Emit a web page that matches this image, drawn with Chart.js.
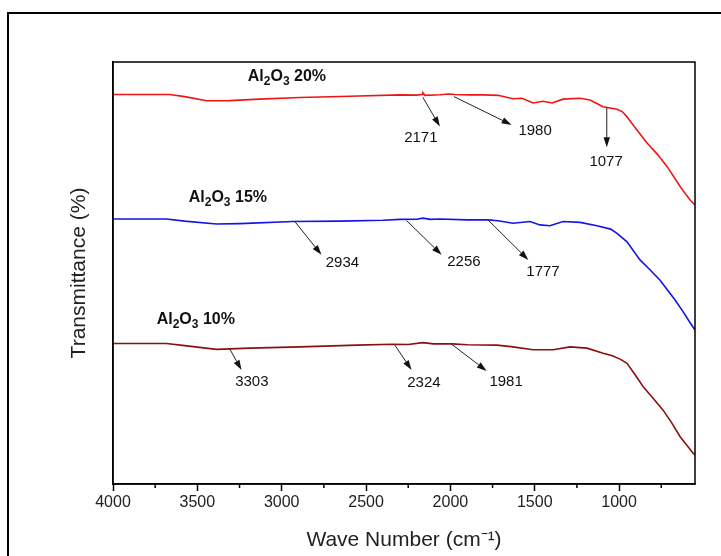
<!DOCTYPE html>
<html>
<head>
<meta charset="utf-8">
<script src="https://cdn.jsdelivr.net/npm/chart.js@4"></script>
<style>
  html, body { margin: 0; padding: 0; background: #fff; }
  #wrap { width: 721px; height: 556px; position: relative; }
</style>
</head>
<body>
<div id="wrap"><canvas id="c" width="721" height="556"></canvas></div>
<script>
// ---- data (wavenumber in cm-1, transmittance in arbitrary offset %) ----
const wn20 = [4000, 3664, 3575, 3446, 3308, 3130, 2893, 2596, 2299, 2200, 2168, 2163, 2151, 2062, 2010, 1973, 1884, 1800, 1718, 1629, 1575, 1510, 1451, 1397, 1332, 1231, 1172, 1095, 1012, 980, 953, 900, 834, 770, 715, 638, 600, 579, 550];
const t20  = [92.3, 92.3, 91.8, 90.8, 90.85, 91.2, 91.6, 91.9, 92.2, 92.15, 92.3, 92.7, 92.1, 92.25, 92.4, 92.3, 92.2, 92.2, 92.1, 91.3, 91.4, 90.3, 90.7, 90.3, 91.2, 91.4, 91.0, 89.4, 88.8, 88.2, 87.0, 84.2, 80.8, 78.0, 75.2, 70.5, 68.4, 67.3, 66.1];

const wn15 = [4000, 3683, 3575, 3387, 3248, 2934, 2655, 2400, 2299, 2200, 2163, 2120, 2062, 1900, 1777, 1718, 1629, 1528, 1469, 1410, 1332, 1231, 1131, 1050, 1012, 953, 876, 820, 757, 668, 620, 579, 550];
const t15  = [62.8, 62.8, 62.3, 61.6, 61.7, 62.2, 62.3, 62.5, 62.7, 62.75, 63.0, 62.7, 62.8, 62.6, 62.6, 62.4, 61.8, 62.2, 61.4, 61.2, 62.2, 62.0, 61.2, 60.4, 59.4, 57.4, 53.1, 50.9, 48.3, 43.6, 40.8, 38.2, 36.5];

const wn10 = [4000, 3683, 3575, 3387, 3189, 2892, 2554, 2341, 2250, 2163, 2100, 1991, 1900, 1724, 1629, 1510, 1391, 1290, 1190, 1095, 1040, 994, 953, 900, 858, 800, 739, 690, 638, 561, 550];
const t10  = [33.3, 33.3, 32.8, 31.9, 32.2, 32.5, 32.9, 33.1, 33.05, 33.5, 33.2, 33.2, 33.0, 32.9, 32.5, 31.8, 31.8, 32.5, 32.2, 31.0, 30.4, 29.6, 28.6, 25.6, 23.1, 20.4, 17.5, 14.6, 11.2, 7.3, 6.9];

const xTicks = [4000, 3500, 3000, 2500, 2000, 1500, 1000];
const xMinorTicks = [3750, 3250, 2750, 2250, 1750, 1250, 750];

// series labels (Al2O3 x%) anchored in data coordinates
const seriesPct  = ['20%', '15%', '10%'];
const seriesLblX = [3201, 3551, 3741];
const seriesLblY = [96.8, 68.1, 39.1];

// peak annotations: label, arrow tail, arrow head, label anchor (data coords)
const annLabels = ['2171', '1980', '1077', '2934', '2256', '1777', '3303', '2324', '1981'];
const annTailX  = [2163, 1979, 1073, 2922, 2259, 1775, 3308, 2329, 1992];
const annTailY  = [91.6, 91.8, 89.2, 62.2, 62.4, 62.5, 32.0, 32.9, 33.1];
const annHeadX  = [2062, 1637, 1073, 2764, 2052, 1538, 3238, 2230, 1785];
const annHeadY  = [84.7, 85.1, 79.8, 54.3, 54.3, 53.1, 27.0, 27.0, 26.8];
const annTextX  = [2175, 1498, 1077, 2640, 1920, 1451, 3177, 2157, 1670];
const annTextY  = [82.0, 83.7, 76.4, 52.4, 52.7, 50.3, 24.1, 23.9, 24.2];

const FONT = "'Liberation Sans', Arial, Helvetica, sans-serif";
const toPts = (xs, ys) => xs.map((x, i) => ({ x: x, y: ys[i] }));

const decor = {
  id: 'decor',
  afterDraw(chart) {
    const ctx = chart.ctx;
    const xs = chart.scales.x, ys = chart.scales.y;
    const a = chart.chartArea;
    ctx.save();
    // outer figure border
    ctx.strokeStyle = '#000';
    ctx.lineWidth = 2;
    ctx.strokeRect(8, 13, 760, 600);
    // plot frame
    ctx.lineWidth = 1.5;
    ctx.strokeRect(a.left, a.top, a.right - a.left, a.bottom - a.top);
    // minor ticks
    xMinorTicks.forEach(v => {
      const px = xs.getPixelForValue(v);
      ctx.beginPath();
      ctx.moveTo(px, a.bottom);
      ctx.lineTo(px, a.bottom + 4);
      ctx.stroke();
    });
    // annotations
    ctx.fillStyle = '#111';
    ctx.strokeStyle = '#222';
    ctx.lineWidth = 1;
    annLabels.forEach((lbl, i) => {
      const x1 = xs.getPixelForValue(annTailX[i]), y1 = ys.getPixelForValue(annTailY[i]);
      const x2 = xs.getPixelForValue(annHeadX[i]), y2 = ys.getPixelForValue(annHeadY[i]);
      const ang = Math.atan2(y2 - y1, x2 - x1);
      const L = 10, W = 3.2;
      const bx = x2 - L * Math.cos(ang), by = y2 - L * Math.sin(ang);
      ctx.beginPath();
      ctx.moveTo(x1, y1);
      ctx.lineTo(bx, by);
      ctx.stroke();
      ctx.beginPath();
      ctx.moveTo(x2, y2);
      ctx.lineTo(bx + W * Math.sin(ang), by - W * Math.cos(ang));
      ctx.lineTo(bx - W * Math.sin(ang), by + W * Math.cos(ang));
      ctx.closePath();
      ctx.fill();
      ctx.font = '15px ' + FONT;
      ctx.textAlign = 'center';
      ctx.textBaseline = 'middle';
      ctx.fillText(lbl, xs.getPixelForValue(annTextX[i]), ys.getPixelForValue(annTextY[i]));
    });
    // series labels with subscripts
    ctx.fillStyle = '#111';
    ctx.textAlign = 'left';
    ctx.textBaseline = 'alphabetic';
    seriesPct.forEach((p, i) => {
      let x = xs.getPixelForValue(seriesLblX[i]);
      const yc = ys.getPixelForValue(seriesLblY[i]);
      const base = yc + 5;
      const parts = [['Al', 0, 16], ['2', 4, 12], ['O', 0, 16], ['3', 4, 12], [' ' + p, 0, 16]];
      parts.forEach(([t, dy, fs]) => {
        ctx.font = 'bold ' + fs + 'px ' + FONT;
        ctx.fillText(t, x, base + dy);
        x += ctx.measureText(t).width;
      });
    });
    ctx.restore();
  }
};

new Chart(document.getElementById('c'), {
  type: 'line',
  data: {
    datasets: [
      { label: 'Al2O3 20%', data: toPts(wn20, t20), borderColor: '#f01515', borderWidth: 1.6 },
      { label: 'Al2O3 15%', data: toPts(wn15, t15), borderColor: '#1414e6', borderWidth: 1.6 },
      { label: 'Al2O3 10%', data: toPts(wn10, t10), borderColor: '#8a1010', borderWidth: 1.6 }
    ]
  },
  options: {
    responsive: false,
    animation: false,
    devicePixelRatio: 1,
    layout: { padding: { left: 67, top: 62, right: 26, bottom: 0 } },
    elements: { point: { radius: 0 }, line: { tension: 0 } },
    plugins: { legend: { display: false }, tooltip: { enabled: false } },
    scales: {
      x: {
        type: 'linear',
        reverse: true,
        min: 550,
        max: 4000,
        afterFit: s => { s.height = 72; },
        afterBuildTicks: s => { s.ticks = xTicks.map(v => ({ value: v })); },
        ticks: {
          includeBounds: false,
          stepSize: 500,
          padding: 2,
          color: '#222',
          font: { family: FONT, size: 16 },
          maxRotation: 0,
          callback: v => String(v)
        },
        grid: { display: true, drawOnChartArea: false, drawTicks: true, tickLength: 7, tickColor: '#000', tickWidth: 1.5 },
        border: { display: true, color: '#000', width: 1.5 },
        title: { display: true, text: 'Wave Number (cm⁻¹)', color: '#222', font: { family: FONT, size: 21 }, padding: { top: 0, bottom: 3 } }
      },
      y: {
        type: 'linear',
        min: 0,
        max: 100,
        afterFit: s => { s.width = 46; },
        ticks: { display: false },
        grid: { display: true, drawOnChartArea: false, drawTicks: false },
        border: { display: true, color: '#000', width: 1.5 },
        title: { display: true, text: 'Transmittance (%)', color: '#222', font: { family: FONT, size: 21 }, padding: 0 }
      }
    }
  },
  plugins: [decor]
});
</script>
</body>
</html>
